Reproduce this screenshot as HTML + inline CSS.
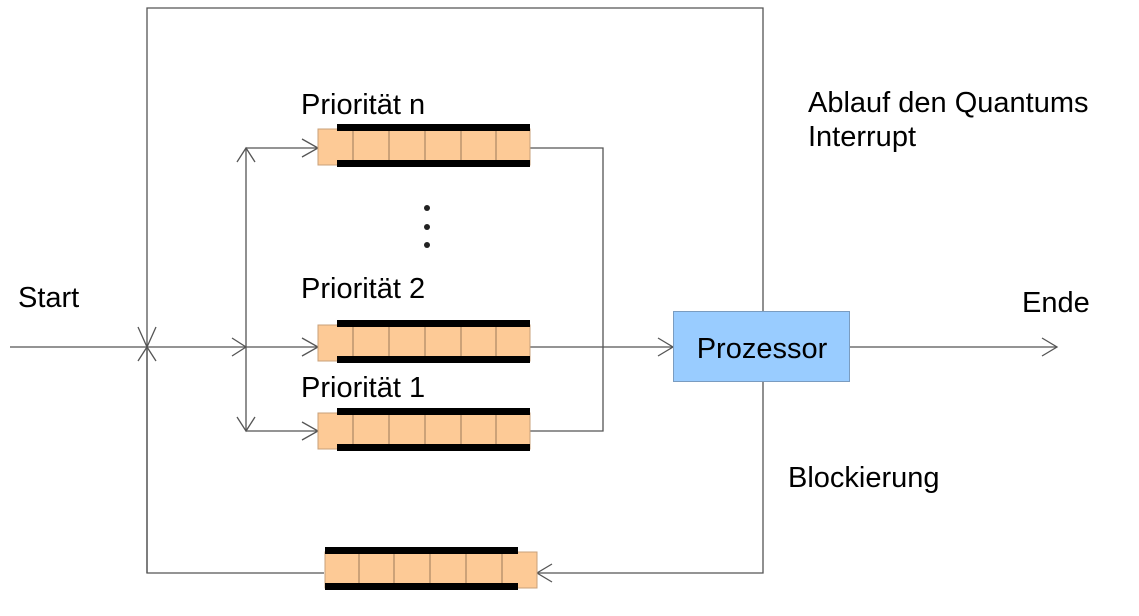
<!DOCTYPE html>
<html><head><meta charset="utf-8"><style>html,body{margin:0;padding:0;background:#fff}svg{display:block}text{font-family:"Liberation Sans",Arial,sans-serif;font-size:29px;fill:#000}</style></head>
<body>
<svg width="1139" height="616" viewBox="0 0 1139 616" xmlns="http://www.w3.org/2000/svg">
<defs>
<g id="q">
<rect x="318" y="-18" width="212" height="36" fill="#fdca96" stroke="#c8a07a" stroke-width="1"/>
<g stroke="#9a7a5a" stroke-width="1"><line x1="353" y1="-17" x2="353" y2="17"/><line x1="389" y1="-17" x2="389" y2="17"/><line x1="425" y1="-17" x2="425" y2="17"/><line x1="461" y1="-17" x2="461" y2="17"/><line x1="496" y1="-17" x2="496" y2="17"/></g>
<rect x="337" y="-23" width="193" height="7" fill="#000"/>
<rect x="337" y="13" width="193" height="7" fill="#000"/>
</g>
</defs>
<g fill="none" stroke="#555" stroke-width="1.3">
<polyline points="147,573 147,8 763,8 763,311"/>
<polyline points="763,381 763,573 537,573"/>
<polyline points="147,347 147,573 324,573"/>
<line x1="10" y1="347" x2="246" y2="347"/>
<line x1="246" y1="148" x2="246" y2="431"/>
<line x1="246" y1="148" x2="318" y2="148"/>
<line x1="246" y1="347" x2="318" y2="347"/>
<line x1="246" y1="431" x2="318" y2="431"/>
<polyline points="530,148 603,148 603,431 530,431"/>
<line x1="530" y1="347" x2="673" y2="347"/>
<line x1="850" y1="347" x2="1057" y2="347"/>
<polyline points="302,139 318,148 302,157"/>
<polyline points="302,338 318,347 302,356"/>
<polyline points="302,422 318,431 302,440"/>
<polyline points="232,338 246,347 232,356"/>
<polyline points="237,162 246,148 255,162"/>
<polyline points="237,417 246,431 255,417"/>
<polyline points="138,327 147,347 156,327"/>
<polyline points="138,361 147,347 156,361"/>
<polyline points="658,338 673,347 658,356"/>
<polyline points="1042,338 1057,347 1042,356"/>
<polyline points="552,564 537,573 552,582"/>
</g>
<use href="#q" transform="translate(0,147)"/>
<use href="#q" transform="translate(0,343)"/>
<use href="#q" transform="translate(0,431)"/>
<g transform="translate(855,0) scale(-1,1)"><use href="#q" transform="translate(0,570)"/></g>
<circle cx="427" cy="208" r="3" fill="#222"/>
<circle cx="427" cy="227" r="3" fill="#222"/>
<circle cx="427" cy="245" r="3" fill="#222"/>
<rect x="673.5" y="311.5" width="176" height="70" fill="#99ccff" stroke="#7a9cc0" stroke-width="1"/>
<text x="762" y="358" text-anchor="middle">Prozessor</text>
<text x="301" y="114">Priorität n</text>
<text x="301" y="298">Priorität 2</text>
<text x="301" y="397">Priorität 1</text>
<text x="18" y="307">Start</text>
<text x="1022" y="312">Ende</text>
<text x="808" y="112">Ablauf den Quantums</text>
<text x="808" y="146">Interrupt</text>
<text x="788" y="487">Blockierung</text>
</svg>
</body></html>
